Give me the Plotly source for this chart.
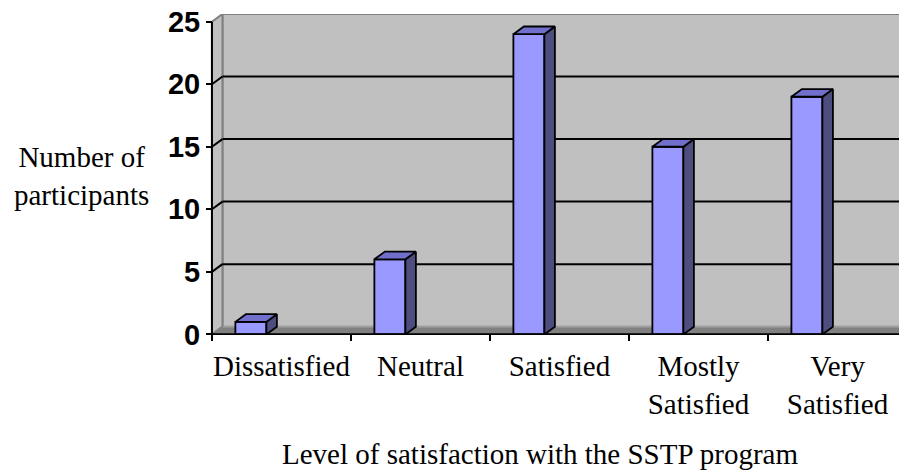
import plotly.graph_objects as go

categories = ["Dissatisfied", "Neutral", "Satisfied", "Mostly<br>Satisfied", "Very<br>Satisfied"]
values = [1, 6, 24, 15, 19]
y_ticks = [0, 5, 10, 15, 20, 25]
y_title = "Number of<br>participants"
x_title = "Level of satisfaction with the SSTP program"

WIN_W, WIN_H = 907, 473
OX, OY = 8, 8                 # page body margin
W, H = WIN_W - OX, WIN_H - OY  # figure size
PX_X = 139.0      # px per category
PX_Y = 12.5       # px per unit
X0_PX = 212.0     # window pixel of category boundary -0.5
Y0_PX = 334.0     # window pixel of value 0
EX, EY = 0.05, 0.05
DX = 10.5 / PX_X   # depth offset in x units
DY = 7.7 / PX_Y    # depth offset in y units
YMAX = 25

xr = [-0.5 - EX, 4.5]
yr = [-EY, YMAX + DY]
l = (X0_PX - OX) - EX * PX_X
pw = (xr[1] - xr[0]) * PX_X
r = W - l - pw
ph = (yr[1] - yr[0]) * PX_Y
b = H - ((Y0_PX - OY) + EY * PX_Y)
t = H - b - ph


def paper_x(px):
    return (px - OX - l) / pw


def paper_y(py):
    return (H - b - (py - OY)) / ph


OFF = -0.22
BW = 0.223

FRONT = "#9999FF"
TOP = "#7070CC"
SIDE = "#4D4D80"
WALL = "#C0C0C0"
FLOOR = "#808080"
EDGE = "#808080"

fig = go.Figure()
xs = [i + OFF for i in range(len(values))]
fig.add_trace(go.Bar(x=xs, y=values, width=BW, marker=dict(color=FRONT, line=dict(color="black", width=1.8)),
                     hoverinfo="skip"))
for xc, v in zip(xs, values):
    xl, xrr = xc - BW / 2, xc + BW / 2
    fig.add_trace(go.Scatter(x=[xrr, xrr + DX, xrr + DX, xrr, xrr], y=[0, DY, v + DY, v, 0],
                             mode="lines", fill="toself", fillcolor=SIDE,
                             line=dict(color="black", width=1.8), hoverinfo="skip"))
    fig.add_trace(go.Scatter(x=[xl, xl + DX, xrr + DX, xrr, xl], y=[v, v + DY, v + DY, v, v],
                             mode="lines", fill="toself", fillcolor=TOP,
                             line=dict(color="black", width=1.8), hoverinfo="skip"))

shapes = []
# back wall
shapes.append(dict(type="rect", xref="x", yref="y", x0=-0.5 + DX, x1=5.0, y0=DY, y1=YMAX + DY,
                   fillcolor=WALL, line=dict(color=EDGE, width=2), layer="below"))
# left wall
shapes.append(dict(type="path", xref="x", yref="y",
                   path=f"M {-0.5} 0 L {-0.5} {YMAX} L {-0.5 + DX} {YMAX + DY} L {-0.5 + DX} {DY} Z",
                   fillcolor=WALL, line=dict(color=EDGE, width=2), layer="below"))
# floor
shapes.append(dict(type="path", xref="x", yref="y",
                   path=f"M {-0.5} 0 L 5.0 0 L 5.0 {DY} L {-0.5 + DX} {DY} Z",
                   fillcolor=FLOOR, line=dict(color=FLOOR, width=1), layer="below"))
shapes.append(dict(type="line", xref="x", yref="y", x0=-0.5 + DX, x1=5.0, y0=DY, y1=DY,
                   line=dict(color="#A0A0A0", width=1.5), layer="below"))
# gridlines
for v in y_ticks[1:-1]:
    shapes.append(dict(type="line", xref="x", yref="y", x0=-0.5 + DX, x1=5.0, y0=v + DY, y1=v + DY,
                       line=dict(color="black", width=2), layer="below"))
    shapes.append(dict(type="line", xref="x", yref="y", x0=-0.5, x1=-0.5 + DX, y0=v, y1=v + DY,
                       line=dict(color="black", width=2), layer="below"))
shapes.append(dict(type="line", xref="x", yref="y", x0=-0.5, x1=-0.5 + DX, y0=0, y1=DY,
                   line=dict(color=EDGE, width=1.5), layer="below"))
# axis lines
shapes.append(dict(type="line", xref="x", yref="y", x0=-0.5, x1=-0.5, y0=0, y1=YMAX,
                   line=dict(color="black", width=2), layer="above"))
shapes.append(dict(type="line", xref="x", yref="y", x0=-0.5, x1=5.0, y0=0, y1=0,
                   line=dict(color="black", width=2), layer="above"))

fig.update_layout(
    width=W, height=H, margin=dict(l=l, r=r, t=t, b=b, pad=0, autoexpand=False),
    paper_bgcolor="white", plot_bgcolor="white", showlegend=False,
    shapes=shapes,
    xaxis=dict(range=xr, anchor="free", position=EY / (yr[1] - yr[0]), automargin=False,
               tickmode="array", tickvals=list(range(len(categories))), ticktext=categories,
               ticks="", showgrid=False, zeroline=False, showline=False,
               ticklabelstandoff=12, ticklabeloverflow="allow",
               tickfont=dict(family="Liberation Serif", size=29, color="black"),
               minor=dict(tickmode="array", tickvals=[i - 0.5 for i in range(len(categories) + 1)],
                          ticks="outside", ticklen=6, tickwidth=2, tickcolor="black", showgrid=False),
               fixedrange=True),
    yaxis=dict(range=yr, anchor="free", position=EX / (xr[1] - xr[0]), automargin=False,
               tickmode="array", tickvals=y_ticks, ticks="outside", ticklen=6, tickwidth=2,
               tickcolor="black", showgrid=False, zeroline=False, showline=False,
               ticklabeloverflow="allow",
               tickfont=dict(family="Liberation Sans", size=29, color="black", weight="bold"),
               fixedrange=True),
    annotations=[
        dict(text=y_title, xref="paper", yref="paper",
             x=paper_x(82), y=paper_y(176),
             xanchor="center", yanchor="middle", showarrow=False, align="center",
             font=dict(family="Liberation Serif", size=29, color="black")),
        dict(text=x_title, xref="paper", yref="paper",
             x=paper_x(540), y=paper_y(454),
             xanchor="center", yanchor="middle", showarrow=False,
             font=dict(family="Liberation Serif", size=29, color="black")),
    ],
)
fig.write_html("out.html")
